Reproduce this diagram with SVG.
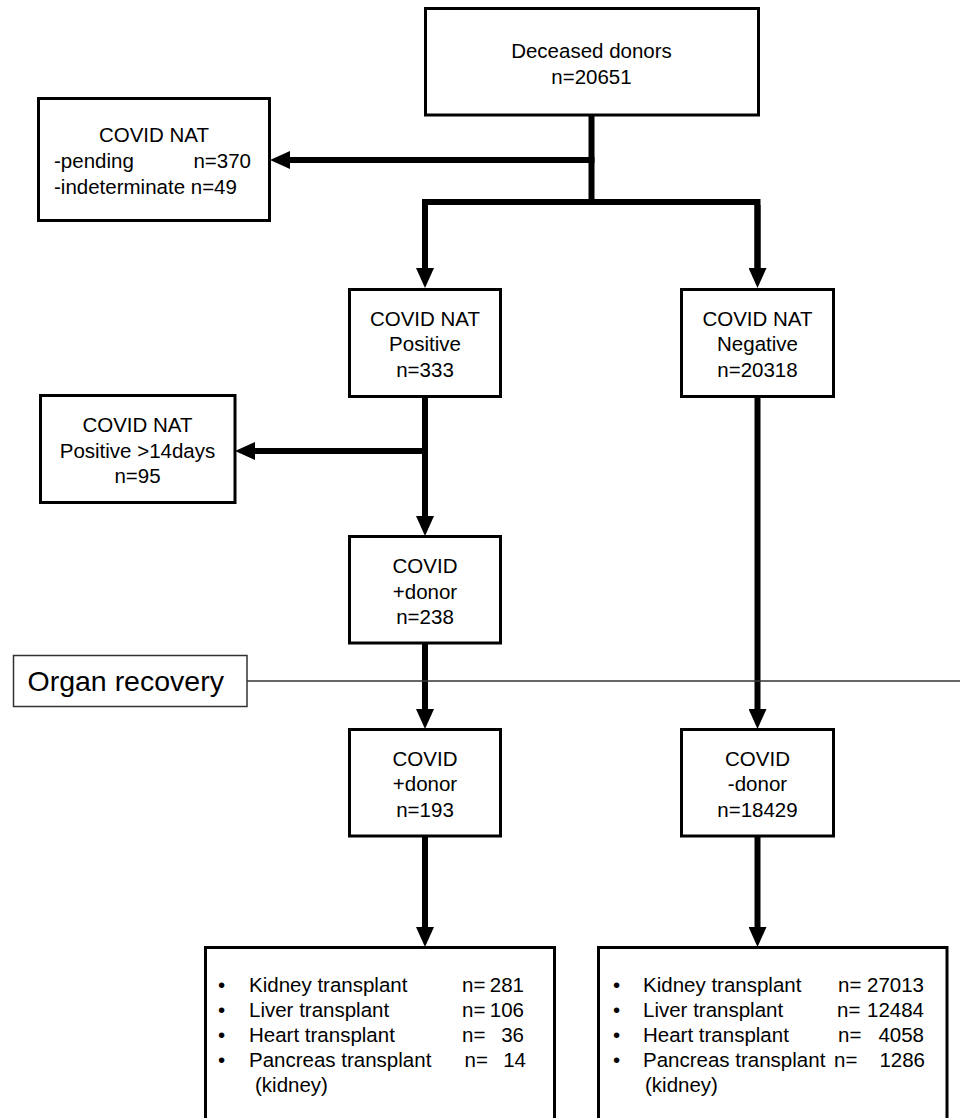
<svg xmlns="http://www.w3.org/2000/svg" width="960" height="1118" viewBox="0 0 960 1118">
<style>
.box{fill:#fff;stroke:#000;stroke-width:3}
.t{font-family:"Liberation Sans",Arial,sans-serif;font-size:20.5px;fill:#000}
.c{text-anchor:middle}
.e{text-anchor:end}
.ln{fill:none;stroke:#000;stroke-width:6}
</style>
<defs>
<marker id="ah" markerUnits="userSpaceOnUse" markerWidth="20" markerHeight="18" refX="0" refY="9" orient="auto" viewBox="0 0 20 18">
<path d="M0,0 L20,9 L0,18 z" fill="#000"/>
</marker>
</defs>
<rect width="960" height="1118" fill="#fff"/>
<g id="connectors">
<path class="ln" d="M591.5,115 V202"/>
<path class="ln" d="M594.5,160 H290" marker-end="url(#ah)"/>
<path class="ln" d="M425,268 V202 H757.5 V268" />
<path class="ln" d="M425,205 V268" marker-end="url(#ah)"/>
<path class="ln" d="M757.5,205 V268" marker-end="url(#ah)"/>
<path class="ln" d="M425,397 V516" marker-end="url(#ah)"/>
<path class="ln" d="M428,451 H255" marker-end="url(#ah)"/>
<path class="ln" d="M425,643 V709" marker-end="url(#ah)"/>
<path class="ln" d="M757.5,397 V709" marker-end="url(#ah)"/>
<path class="ln" d="M425,836 V927" marker-end="url(#ah)"/>
<path class="ln" d="M757.5,836 V927" marker-end="url(#ah)"/>
<path d="M247,681 H960" fill="none" stroke="#333" stroke-width="1.5"/>
</g>
<g id="deceased">
<rect class="box" x="425.5" y="8.5" width="333" height="106.5"/>
<text class="t c" x="591.5" y="58">Deceased donors</text>
<text class="t c" x="591.5" y="83.5">n=20651</text>
</g>
<g id="pending">
<rect class="box" x="38.5" y="98.5" width="231" height="122"/>
<text class="t c" x="154" y="142">COVID NAT</text>
<text class="t" x="54" y="168">-pending</text>
<text class="t e" x="251" y="168">n=370</text>
<text class="t" x="54" y="193.5">-indeterminate n=49</text>
</g>
<g id="positive">
<rect class="box" x="349.5" y="289.5" width="151" height="107"/>
<text class="t c" x="425" y="325.5">COVID NAT</text>
<text class="t c" x="425" y="351">Positive</text>
<text class="t c" x="425" y="376.5">n=333</text>
</g>
<g id="negative">
<rect class="box" x="681.5" y="289.5" width="152" height="107"/>
<text class="t c" x="757.5" y="325.5">COVID NAT</text>
<text class="t c" x="757.5" y="351">Negative</text>
<text class="t c" x="757.5" y="376.5">n=20318</text>
</g>
<g id="positive14">
<rect class="box" x="40.5" y="395.5" width="194.5" height="107"/>
<text class="t c" x="137.5" y="432">COVID NAT</text>
<text class="t c" x="137.5" y="458">Positive &gt;14days</text>
<text class="t c" x="137.5" y="483">n=95</text>
</g>
<g id="donor238">
<rect class="box" x="349.5" y="536.5" width="151" height="106.5"/>
<text class="t c" x="425" y="573">COVID</text>
<text class="t c" x="425" y="599">+donor</text>
<text class="t c" x="425" y="624">n=238</text>
</g>
<g id="organ-recovery">
<rect x="13.5" y="655.5" width="233.5" height="51" fill="#fff" stroke="#333" stroke-width="1.5"/>
<text class="t" x="27.5" y="691" style="font-size:28.5px">Organ recovery</text>
</g>
<g id="donor193">
<rect class="box" x="349.5" y="729.5" width="151" height="106.5"/>
<text class="t c" x="425" y="765.5">COVID</text>
<text class="t c" x="425" y="791">+donor</text>
<text class="t c" x="425" y="816.5">n=193</text>
</g>
<g id="donor18429">
<rect class="box" x="681.5" y="729.5" width="152" height="106.5"/>
<text class="t c" x="757.5" y="765.5">COVID</text>
<text class="t c" x="757.5" y="791">-donor</text>
<text class="t c" x="757.5" y="816.5">n=18429</text>
</g>
<g id="transplants-positive">
<rect class="box" x="205.5" y="947.5" width="349" height="190"/>
<text class="t" x="218" y="992">•</text>
<text class="t" x="249" y="992">Kidney transplant</text>
<text class="t"><tspan x="462" y="992">n=</tspan><tspan class="e" x="524" y="992">281</tspan></text>
<text class="t" x="218" y="1017">•</text>
<text class="t" x="249" y="1017">Liver transplant</text>
<text class="t"><tspan x="462" y="1017">n=</tspan><tspan class="e" x="524" y="1017">106</tspan></text>
<text class="t" x="218" y="1042">•</text>
<text class="t" x="249" y="1042">Heart transplant</text>
<text class="t"><tspan x="462" y="1042">n=</tspan><tspan class="e" x="524" y="1042">36</tspan></text>
<text class="t" x="218" y="1067">•</text>
<text class="t" x="249" y="1067">Pancreas transplant</text>
<text class="t"><tspan x="464.5" y="1067">n=</tspan><tspan class="e" x="526" y="1067">14</tspan></text>
<text class="t" x="255" y="1092">(kidney)</text>
</g>
<g id="transplants-negative">
<rect class="box" x="598.5" y="947.5" width="348.5" height="190"/>
<text class="t" x="613" y="992">•</text>
<text class="t" x="643" y="992">Kidney transplant</text>
<text class="t"><tspan x="838" y="992">n=</tspan><tspan class="e" x="924" y="992">27013</tspan></text>
<text class="t" x="613" y="1017">•</text>
<text class="t" x="643" y="1017">Liver transplant</text>
<text class="t"><tspan x="837" y="1017">n=</tspan><tspan class="e" x="924" y="1017">12484</tspan></text>
<text class="t" x="613" y="1042">•</text>
<text class="t" x="643" y="1042">Heart transplant</text>
<text class="t"><tspan x="838" y="1042">n=</tspan><tspan class="e" x="924" y="1042">4058</tspan></text>
<text class="t" x="613" y="1067">•</text>
<text class="t" x="643" y="1067">Pancreas transplant</text>
<text class="t"><tspan x="834" y="1067">n=</tspan><tspan class="e" x="925" y="1067">1286</tspan></text>
<text class="t" x="645" y="1092">(kidney)</text>
</g>
</svg>
